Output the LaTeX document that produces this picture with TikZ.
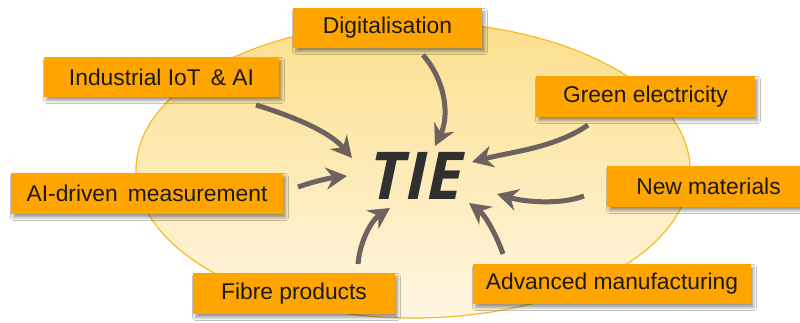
\documentclass[tikz,border=0pt]{standalone}
\usepackage{fontspec}
\setmainfont{Liberation Sans}
\newfontfamily\tiefont{Open Sans}
\usetikzlibrary{arrows.meta,shadows.blur}

\definecolor{boxorange}{RGB}{255,165,0}
\definecolor{arrowgray}{RGB}{110,98,94}
\definecolor{ringgold}{RGB}{245,188,40}
\definecolor{fieldtop}{RGB}{252,223,140}
\definecolor{fieldbot}{RGB}{255,246,226}
\definecolor{tiegray}{RGB}{48,48,48}

\tikzset{
  driver/.style={fill=boxorange, inner sep=0pt, align=center,
    font=\fontsize{22.8}{26}\selectfont, text=black!90,
    blur shadow={shadow xshift=2.5pt, shadow yshift=-3.5pt,
      shadow blur radius=3pt, shadow opacity=40}},
  feed/.style={draw=arrowgray, line width=5pt,
    -{Stealth[length=21pt, width=22pt, inset=7pt]}}
}

\begin{document}
\begin{tikzpicture}[x=1pt, y=-1pt]
  \clip (0,0) rectangle (800,322);
  \fill[white] (0,0) rectangle (800,322);

  % background field: saturated at the top, fading to cream at the bottom
  \begin{scope}
    \clip (413,170) ellipse [x radius=277, y radius=148];
    \foreach \k in {0,...,59} {
      \pgfmathsetmacro{\pct}{100-\k*100/59}
      \pgfmathsetmacro{\ya}{22+\k*5}
      \fill[fieldtop!\pct!fieldbot] (130,\ya) rectangle (700,\ya+5.6);
    }
  \end{scope}
  \draw[ringgold, line width=1.2pt] (413,170) ellipse [x radius=277, y radius=148];

  % central label
  \node (tie) at (417,176) {\tiefont\bfseries\itshape\fontsize{66}{66}\selectfont\color{tiegray}TIE};

  % drivers
  \node[driver, minimum width=189pt, minimum height=40pt] (dig)   at (387.5,28)  {Digitalisation};
  \node[driver, minimum width=235pt, minimum height=40pt] (iot)   at (161.5,77)  {Industrial IoT \,\& AI};
  \node[driver, minimum width=219pt, minimum height=41pt] (green) at (645.5,96.5) {Green electricity};
  \node[driver, minimum width=272pt, minimum height=41pt] (aim)   at (147,193.5) {AI-driven \,measurement};
  \node[driver, minimum width=203pt, minimum height=41pt] (newm)  at (708.5,186.5) {New materials};
  \node[driver, minimum width=202pt, minimum height=41pt] (fibre) at (294,293.5) {Fibre products};
  \node[driver, minimum width=278pt, minimum height=40pt] (adv)   at (612,284)   {Advanced manufacturing};

  % arrow ends
  \coordinate (iotS)   at (256,105);  \coordinate (iotE)   at (352,158);
  \coordinate (digS)   at (423,55);   \coordinate (digE)   at (435,146);
  \coordinate (greenS) at (588,125);  \coordinate (greenE) at (472,162);
  \coordinate (aimS)   at (298,187);  \coordinate (aimE)   at (347,176);
  \coordinate (newmS)  at (584,196);  \coordinate (newmE)  at (497,194);
  \coordinate (fibreS) at (358,264);  \coordinate (fibreE) at (390,208);
  \coordinate (advS)   at (503,254);  \coordinate (advE)   at (469,203);

  % arrows towards the centre
  \draw[feed] (iotS)   .. controls (295,117) and (330,132) .. (iotE);
  \draw[feed] (digS)   .. controls (445,80)  and (450,115) .. (digE);
  \draw[feed] (greenS) .. controls (555,148) and (510,152) .. (greenE);
  \draw[feed] (aimS)   .. controls (315,181) and (330,178) .. (aimE);
  \draw[feed] (newmS)  .. controls (560,205) and (525,202) .. (newmE);
  \draw[feed] (fibreS) .. controls (360,240) and (372,220) .. (fibreE);
  \draw[feed] (advS)   .. controls (496,234) and (485,215) .. (advE);
\end{tikzpicture}
\end{document}
